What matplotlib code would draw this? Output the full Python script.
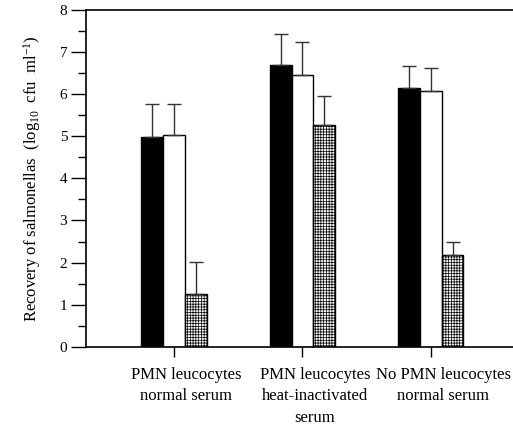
import matplotlib
matplotlib.use("Agg")
import matplotlib.pyplot as plt
import numpy as np
from matplotlib.transforms import ScaledTranslation

plt.rcParams['font.family'] = ['Liberation Serif', 'DejaVu Serif']
plt.rcParams['mathtext.fontset'] = 'custom'
plt.rcParams['mathtext.rm'] = 'Liberation Serif'
plt.rcParams['mathtext.it'] = 'Liberation Serif:italic'
plt.rcParams['hatch.color'] = '#b4b4b4'
plt.rcParams['hatch.linewidth'] = 0.5

categories = ["PMN leucocytes\nnormal serum",
              "PMN leucocytes\nheat-inactivated\nserum",
              "No PMN leucocytes\nnormal serum"]
black_vals = [4.99, 6.68, 6.13]
black_err = [0.78, 0.74, 0.54]
white_vals = [5.03, 6.44, 6.08]
white_err = [0.74, 0.80, 0.53]
dot_vals = [1.25, 5.27, 2.17]
dot_err = [0.77, 0.68, 0.32]
yticks = [0, 1, 2, 3, 4, 5, 6, 7, 8]

fig = plt.figure(figsize=(5.13, 4.34), dpi=100)
ax = fig.add_axes([0.1676, 0.2005, 0.8324, 0.7775])

x = np.arange(len(categories))
w = 0.169
errkw = dict(ecolor='#333333', elinewidth=1.0, capsize=5, capthick=1.0)

ax.bar(x - w, black_vals, w, color='black', edgecolor='black', linewidth=1.0)
ax.errorbar(x - w, black_vals, yerr=[np.zeros(3), black_err], fmt='none', **errkw)
ax.bar(x, white_vals, w, color='white', edgecolor='black', linewidth=1.0)
ax.errorbar(x, white_vals, yerr=[np.zeros(3), white_err], fmt='none', **errkw)
ax.bar(x + w, dot_vals, w, color='#f6f6f6', edgecolor='black', linewidth=1.0, hatch='++++++')
ax.errorbar(x + w, dot_vals, yerr=[np.zeros(3), dot_err], fmt='none', **errkw)

ax.set_xlim(-0.685, 2.64)
ax.set_ylim(0, 8)
ax.set_yticks(yticks)
ax.set_yticks(np.arange(0.5, 8, 1.0), minor=True)
ax.tick_params(axis='y', which='major', direction='out', length=10.5, width=1.0, labelsize=11, pad=3)
ax.tick_params(axis='y', which='minor', direction='out', length=5.5, width=1.0)
ax.set_xticks(x)
ax.set_xticklabels([''] * 3)
ax.tick_params(axis='x', which='major', direction='out', length=7, width=1.0)

ax.spines['right'].set_visible(False)
for s in ['left', 'bottom', 'top']:
    ax.spines[s].set_linewidth(1.2)

off = ScaledTranslation(9 / 72, 0, fig.dpi_scale_trans)
for xi, lab in zip(x, categories):
    ax.text(xi, -0.47, lab, ha='center', va='top', fontsize=12,
            linespacing=1.45, transform=ax.transData + off)

ax.set_ylabel(r'Recovery of salmonellas  (log$_{10}$  cfu  ml$^{-1}$)',
              fontsize=12, labelpad=12)

fig.savefig('out.png', dpi=100)
